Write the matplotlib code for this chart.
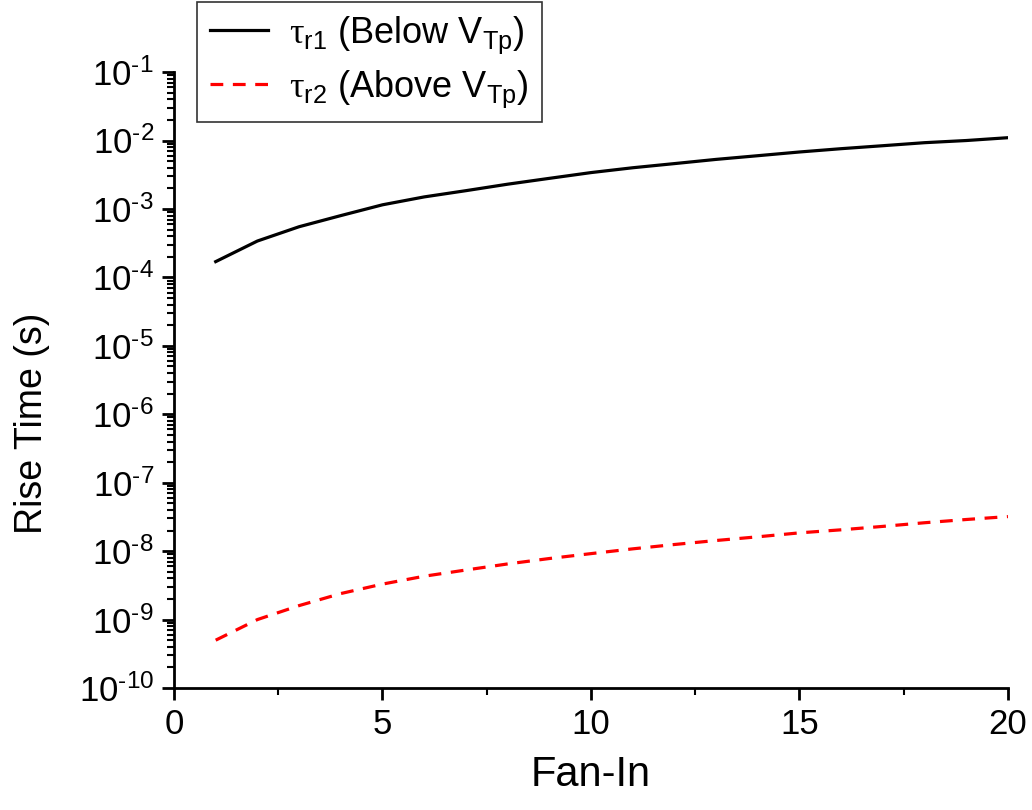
import matplotlib
matplotlib.use("Agg")
import matplotlib.pyplot as plt
from matplotlib.ticker import LogLocator, MultipleLocator, FixedLocator
import numpy as np

plt.rcParams['font.family'] = ['Liberation Sans', 'DejaVu Sans']
plt.rcParams['mathtext.fontset'] = 'custom'
plt.rcParams['mathtext.rm'] = 'Liberation Sans'
plt.rcParams['mathtext.it'] = 'Liberation Sans:italic'
plt.rcParams['mathtext.sf'] = 'Liberation Serif'   # used only for the tau glyph
plt.rcParams['mathtext.default'] = 'regular'

fan_in = list(range(1, 21))
tau_r1 = [1.7e-4, 3.4e-4, 5.5e-4, 8.0e-4, 1.15e-3, 1.5e-3, 1.85e-3, 2.3e-3, 2.8e-3, 3.4e-3,
          4.0e-3, 4.6e-3, 5.3e-3, 6.0e-3, 6.8e-3, 7.6e-3, 8.4e-3, 9.3e-3, 1.0e-2, 1.1e-2]
tau_r2 = [5.0e-10, 1.0e-9, 1.6e-9, 2.4e-9, 3.3e-9, 4.3e-9, 5.3e-9, 6.5e-9, 7.8e-9, 9.2e-9,
          1.08e-8, 1.25e-8, 1.43e-8, 1.62e-8, 1.85e-8, 2.05e-8, 2.3e-8, 2.6e-8, 2.9e-8, 3.2e-8]
y_exps = list(range(-10, 0))

fig = plt.figure(figsize=(10.32, 8.1), dpi=100)
ax = fig.add_axes([0.1686, 0.1506, 0.8081, 0.7604])

ax.plot(fan_in, tau_r1, color='black', lw=2.3,
        label=r'$\mathsf{\tau}_{r1}$ (Below V$_{Tp}$)')
ax.plot(fan_in, tau_r2, color='red', lw=2.3, ls=(0, (4, 3)),
        label=r'$\mathsf{\tau}_{r2}$ (Above V$_{Tp}$)')

ax.set_yscale('log')
ax.set_xlim(0, 20)
ax.set_ylim(1e-10, 1e-1)
ax.yaxis.set_major_locator(FixedLocator([10.0 ** e for e in y_exps]))
# hyphen instead of the math minus, like the original
hyph = '\u2010'
ax.set_yticklabels(['$10^{' + hyph + str(abs(e)) + '}$' for e in y_exps])
ax.yaxis.set_minor_locator(LogLocator(base=10, subs=np.arange(2, 10), numticks=20))
ax.xaxis.set_major_locator(MultipleLocator(5))
ax.xaxis.set_minor_locator(MultipleLocator(2.5))

for s in ['top', 'right']:
    ax.spines[s].set_visible(False)
for s in ['left', 'bottom']:
    ax.spines[s].set_linewidth(2)

ax.tick_params(which='major', direction='out', length=8.5, width=2, labelsize=25, pad=6)
ax.tick_params(which='minor', direction='out', length=5, width=1.5)

ax.set_xlabel('Fan-In', fontsize=30, labelpad=10)
ax.set_ylabel('Rise Time (s)', fontsize=27)
ax.yaxis.set_label_coords(-0.149, 0.43)

leg = ax.legend(loc='upper left', bbox_to_anchor=(0.191, 0.998), bbox_transform=fig.transFigure,
                borderaxespad=0, fontsize=26, frameon=True, fancybox=False, edgecolor='black',
                handlelength=1.6, handletextpad=0.6, borderpad=0.35, labelspacing=0.35)
leg.get_frame().set_linewidth(1.2)

fig.savefig('out.png', dpi=100)
